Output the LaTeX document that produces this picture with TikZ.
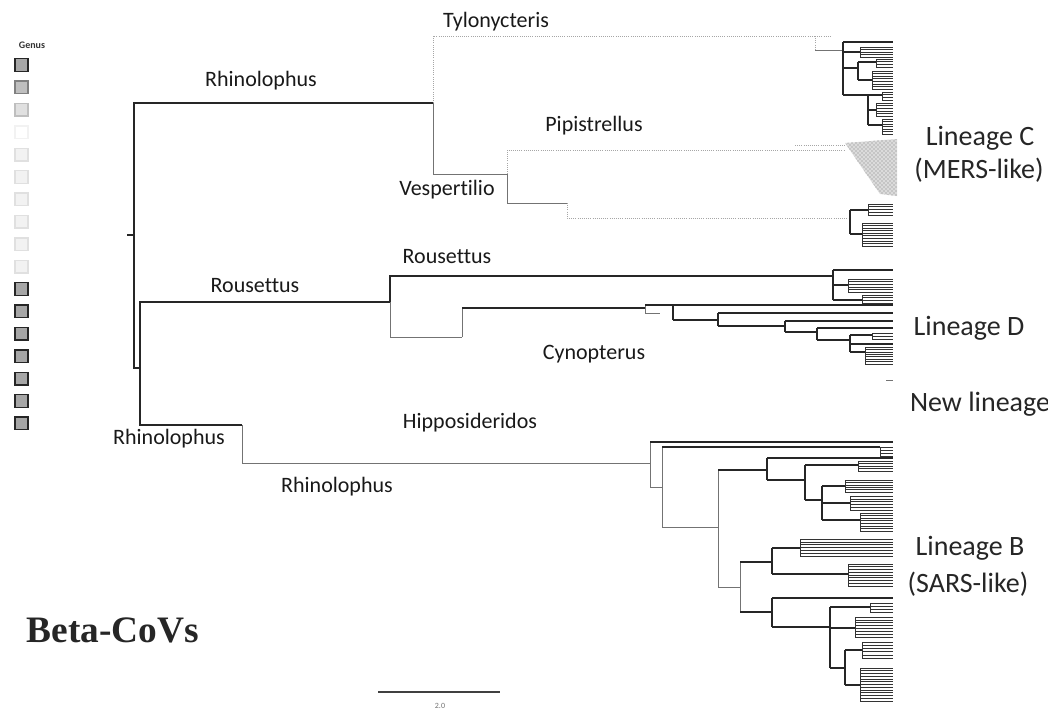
\documentclass[tikz,border=0pt]{standalone}
\usepackage{fontspec}
\setmainfont{Carlito}[Ligatures=NoCommon]
\newfontfamily\betafont{Liberation Serif}
\usetikzlibrary{patterns}
\newcommand\tipfan[4]{%
  \draw[tp] (#1,#2) -- (#1,#3);
  \foreach \k in {0,...,#4}{\draw[tp] (#1,{#2+(#3-#2)*\k/#4}) -- (893,{#2+(#3-#2)*\k/#4});}}
\newcommand\hb[4]{\draw[#1] (#2,#4) -- (#3,#4);}
\newcommand\vb[4]{\draw[#1] (#2,#3) -- (#2,#4);}
\begin{document}
\begin{tikzpicture}[x=0.75pt,y=-0.75pt,
  dk/.style={black!85,line width=0.9pt},
  md/.style={black!55,line width=0.7pt},
  ft/.style={black!35,line width=0.6pt,densely dotted},
  tp/.style={black!80,line width=0.45pt},
  lab/.style={font=\fontsize{16.5}{18}\selectfont,inner sep=0pt,text=black!90},
  lin/.style={font=\fontsize{21}{23}\selectfont,inner sep=0pt,anchor=base,text=black!85},
  sq/.style={minimum size=9.5pt,inner sep=0pt,line width=1.1pt},
  sqd/.style={sq,draw=black!85,fill=black!35},
  sqm/.style={sq,draw=black!50,fill=black!25},
  sql/.style={sq,draw=black!25,fill=black!12},
  sqf/.style={sq,draw=black!12,fill=black!5},
  sqv/.style={sq,draw=black!5,fill=white}]
\useasboundingbox (0,0) rectangle (1048,715);

% ---------- legend ----------
\node[font=\bfseries\fontsize{7.5}{8}\selectfont,text=black!80,inner sep=0pt] (genus) at (32,45) {Genus};
\foreach \i/\s in {0/sqd,1/sqm,2/sql,3/sqv,4/sqf,5/sqf,6/sqf,7/sqf,8/sqf,9/sqf,10/sqd,11/sqd,12/sqd,13/sqd,14/sqd,15/sqd,16/sqd}
  \node[\s] (sq\i) at (21.5,{65+22.4*\i}) {};

% ---------- backbone ----------
\coordinate (rstub) at (127,235);
\coordinate (root) at (134,235);
\coordinate (nA) at (433,103);
\coordinate (nL) at (140,368);
\coordinate (nR) at (390,302);
\coordinate (nRh) at (242,425);
\coordinate (nB1) at (650,463);
\draw[dk] (rstub) -- (root);
\draw[dk] (root) |- (nA);
\draw[dk] (root) |- (nL);
\draw[dk] (nL) |- (nR);
\draw[dk] (nL) |- (nRh);
\draw[md] (nRh) |- (nB1);

% ---------- Lineage C ----------
\coordinate (tyl) at (815,36);
\coordinate (nV) at (507,174);
\coordinate (nV2) at (567,203);
\coordinate (pip) at (845,150);
\coordinate (cb) at (850,218);
\draw[ft] (nA) |- (tyl);
\draw[md] (nA) |- (nV);
\draw[ft] (nV) |- (pip);
\draw[md] (nV) |- (nV2);
\draw[ft] (nV2) |- (cb);

\vb{ft}{815}{36}{50}
\hb{ft}{815}{832}{36}
\hb{md}{815}{843}{50}
\vb{dk}{843}{42}{95}
\hb{dk}{843}{893}{42}
\hb{dk}{843}{860}{52} \tipfan{860}{47}{57}{4}
\hb{dk}{843}{858}{68} \vb{dk}{858}{62}{80}
\hb{dk}{858}{876}{62} \tipfan{876}{59}{67}{3}
\hb{dk}{858}{872}{80} \tipfan{872}{71}{89}{7}
\hb{dk}{843}{868}{95} \vb{dk}{868}{95}{125}
\hb{dk}{868}{882}{95} \tipfan{882}{92}{100}{3}
\hb{dk}{868}{876}{110} \tipfan{876}{103}{116}{5}
\hb{dk}{868}{882}{125} \tipfan{882}{119}{134}{6}

% Pipistrellus shaded clade
\fill[black!14] (845,143) -- (897,139) -- (897,196) -- (880,194) -- cycle;
\fill[pattern=crosshatch dots,pattern color=black!50] (845,143) -- (897,139) -- (897,196) -- (880,194) -- cycle;
\hb{ft}{795}{845}{145}

% bottom sub-clade
\vb{dk}{850}{210}{234}
\hb{dk}{850}{868}{210} \tipfan{868}{204}{215}{4}
\hb{dk}{850}{862}{234} \tipfan{862}{223}{246}{9}

% ---------- Lineage D ----------
\coordinate (dR) at (833,276);
\coordinate (nCy) at (462,337);
\coordinate (n645) at (645,308);
\draw[dk] (nR) |- (dR);
\draw[md] (nR) |- (nCy);
\draw[md] (nCy) |- (n645);
\hb{dk}{462}{645}{308}

\vb{dk}{833}{270}{300}
\hb{dk}{833}{893}{270}
\hb{dk}{833}{848}{285} \tipfan{848}{279}{292}{5}
\hb{dk}{833}{862}{300} \tipfan{862}{295}{303}{3}

\vb{md}{645}{305}{313}
\hb{dk}{645}{673}{305}
\hb{md}{645}{660}{313}
\vb{dk}{673}{305}{320}
\hb{dk}{673}{893}{305}
\hb{dk}{673}{718}{320}
\vb{dk}{718}{313}{326}
\hb{dk}{718}{893}{313}
\hb{dk}{718}{785}{326}
\vb{dk}{785}{321}{332}
\hb{dk}{785}{893}{321}
\hb{dk}{785}{817}{332}
\vb{dk}{817}{328}{340}
\hb{dk}{817}{893}{328}
\hb{dk}{817}{850}{340}
\vb{dk}{850}{335}{352}
\hb{dk}{850}{872}{335} \tipfan{872}{333}{339}{2}
\hb{dk}{850}{893}{344}
\hb{dk}{850}{865}{352} \tipfan{865}{347}{364}{7}

% new lineage tip
\hb{md}{886}{893}{380}

% ---------- Lineage B ----------
\vb{md}{650}{442}{487}
\hb{dk}{650}{893}{442}
\hb{md}{650}{662}{487}
\vb{md}{662}{447}{527}
\hb{dk}{662}{880}{447} \tipfan{880}{447}{456}{3}
\hb{md}{662}{718}{527}
\vb{md}{718}{470}{587}
\hb{dk}{718}{767}{470}
\vb{dk}{767}{458}{480}
\hb{dk}{767}{893}{458}
\hb{dk}{767}{805}{480}
\vb{dk}{805}{465}{500}
\hb{dk}{805}{858}{465} \tipfan{858}{461}{471}{4}
\hb{dk}{805}{822}{500}
\vb{dk}{822}{486}{520}
\hb{dk}{822}{845}{486} \tipfan{845}{480}{492}{5}
\hb{dk}{822}{850}{503} \tipfan{850}{496}{510}{5}
\hb{dk}{822}{860}{520} \tipfan{860}{513}{531}{7}
\hb{md}{718}{740}{587}
\vb{md}{740}{562}{612}
\hb{dk}{740}{772}{562}
\vb{dk}{772}{548}{574}
\hb{dk}{772}{800}{548} \tipfan{800}{539}{556}{6}
\hb{dk}{772}{848}{574} \tipfan{848}{564}{586}{8}
\hb{dk}{740}{772}{612}
\vb{dk}{772}{598}{627}
\hb{dk}{772}{893}{598}
\hb{dk}{772}{830}{627}
\vb{dk}{830}{607}{668}
\hb{dk}{830}{870}{607} \tipfan{870}{603}{612}{3}
\hb{dk}{830}{855}{628} \tipfan{855}{617}{637}{7}
\hb{dk}{830}{845}{668}
\vb{dk}{845}{650}{685}
\hb{dk}{845}{862}{650} \tipfan{862}{642}{658}{5}
\hb{dk}{845}{860}{685} \tipfan{860}{668}{701}{12}

% ---------- clade labels ----------
\node[lab] (lTyl) at (496,22) {Tylonycteris};
\node[lab] (lRh1) at (261,81) {Rhinolophus};
\node[lab] (lPip) at (594,126) {Pipistrellus};
\node[lab] (lVes) at (447,190) {Vespertilio};
\node[lab] (lRo2) at (447,257) {Rousettus};
\node[lab] (lRo1) at (255,286) {Rousettus};
\node[lab] (lCyn) at (594,354) {Cynopterus};
\node[lab] (lHip) at (470,423) {Hipposideridos};
\node[lab] (lRh2) at (169,439) {Rhinolophus};
\node[lab] (lRh3) at (337,487) {Rhinolophus};

% ---------- lineage labels ----------
\node[lin] (linC) at (980,145) {Lineage C};
\node[lin] (linC2) at (979,178) {(MERS-like)};
\node[lin] (linD) at (969,335) {Lineage D};
\node[lin] (linN) at (980,411) {New lineage};
\node[lin] (linB) at (970,555) {Lineage B};
\node[lin] (linB2) at (968,592) {(SARS-like)};

% ---------- title and scale ----------
\node[font=\betafont\bfseries\fontsize{28}{30}\selectfont,inner sep=0pt,text=black!85] (title) at (113,630) {Beta-CoVs};
\coordinate (sbL) at (378,692);
\coordinate (sbR) at (500,692);
\draw[black!75,line width=0.8pt] (sbL) -- (sbR);
\node[font=\fontsize{6}{7}\selectfont,text=black!55,inner sep=0pt] (sbt) at (440,706) {2.0};
\end{tikzpicture}
\end{document}
